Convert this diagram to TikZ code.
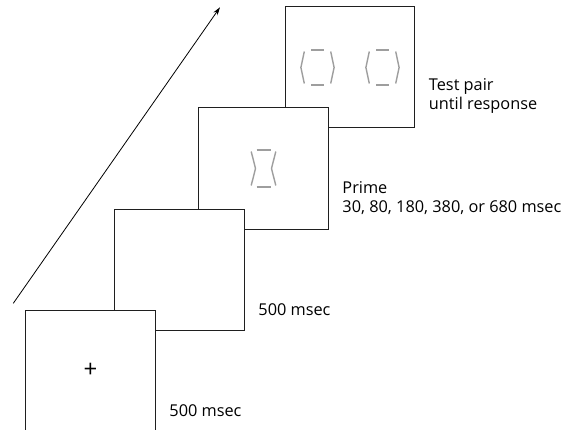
\documentclass[tikz,border=0pt]{standalone}
\usepackage{fontspec}
\setmainfont{Open Sans}
\usetikzlibrary{arrows.meta}
\begin{document}
\begin{tikzpicture}[x=1pt,y=-1pt,
  screen/.style={draw=black!88, line width=1pt, fill=white,
    minimum width=129.5pt, minimum height=121pt, inner sep=0pt},
  timing/.style={anchor=south west, inner sep=0pt, align=left,
    font=\fontsize{16.3}{18.5}\selectfont, xshift=13.5pt, yshift=15pt},
  stroke/.style={draw=black!38, line width=1.4pt},
  timeline/.style={draw=black, line width=0.8pt, -{Stealth[length=8pt,width=5pt]}},
  % prime stimulus: two bars with inward-bent sides
  hourglass/.pic={
    \draw[stroke] (-7,-18.5) -- (7,-18.5);
    \draw[stroke] (-7,18.5) -- (7,18.5);
    \draw[stroke] (-12.3,-17) -- (-8,0) -- (-12.3,17);
    \draw[stroke] (12.3,-17) -- (8,0) -- (12.3,17);
  },
  % test stimulus: two bars with outward-bent sides
  hexagon/.pic={
    \draw[stroke] (-6.4,-17.5) -- (6.4,-17.5);
    \draw[stroke] (-6.4,17.5) -- (6.4,17.5);
    \draw[stroke] (-13.2,-16) -- (-16.6,0) -- (-13.2,16);
    \draw[stroke] (13.2,-16) -- (16.6,0) -- (13.2,16);
  },
]
\useasboundingbox (0,0) rectangle (577,430);

% time axis
\coordinate (t0) at (13.3,303.3);
\coordinate (t1) at (220,7.3);
\draw[timeline] (t0) -- (t1);

% screens, back to front
\node[screen] (s4) at (350,67.5) {};
\node[screen] (s3) at (263.5,168.5) {};
\node[screen] (s2) at (179.5,269.5) {};
\node[screen] (s1) at (90.5,370.5) {};

% screen contents
\node[font=\fontsize{24}{24}\selectfont, inner sep=0pt] (fix) at (s1.center) {+};
\pic at (s3.center) {hourglass};
\pic at ([xshift=-32.5pt]s4.center) {hexagon};
\pic at ([xshift=32.5pt]s4.center) {hexagon};

% durations
\node[timing] (d1) at (s1.south east) {500 msec};
\node[timing] (d2) at (s2.south east) {500 msec};
\node[timing] (d3) at (s3.south east) {Prime\\30, 80, 180, 380, or 680 msec};
\node[timing] (d4) at (s4.south east) {Test pair\\until response};
\end{tikzpicture}
\end{document}
